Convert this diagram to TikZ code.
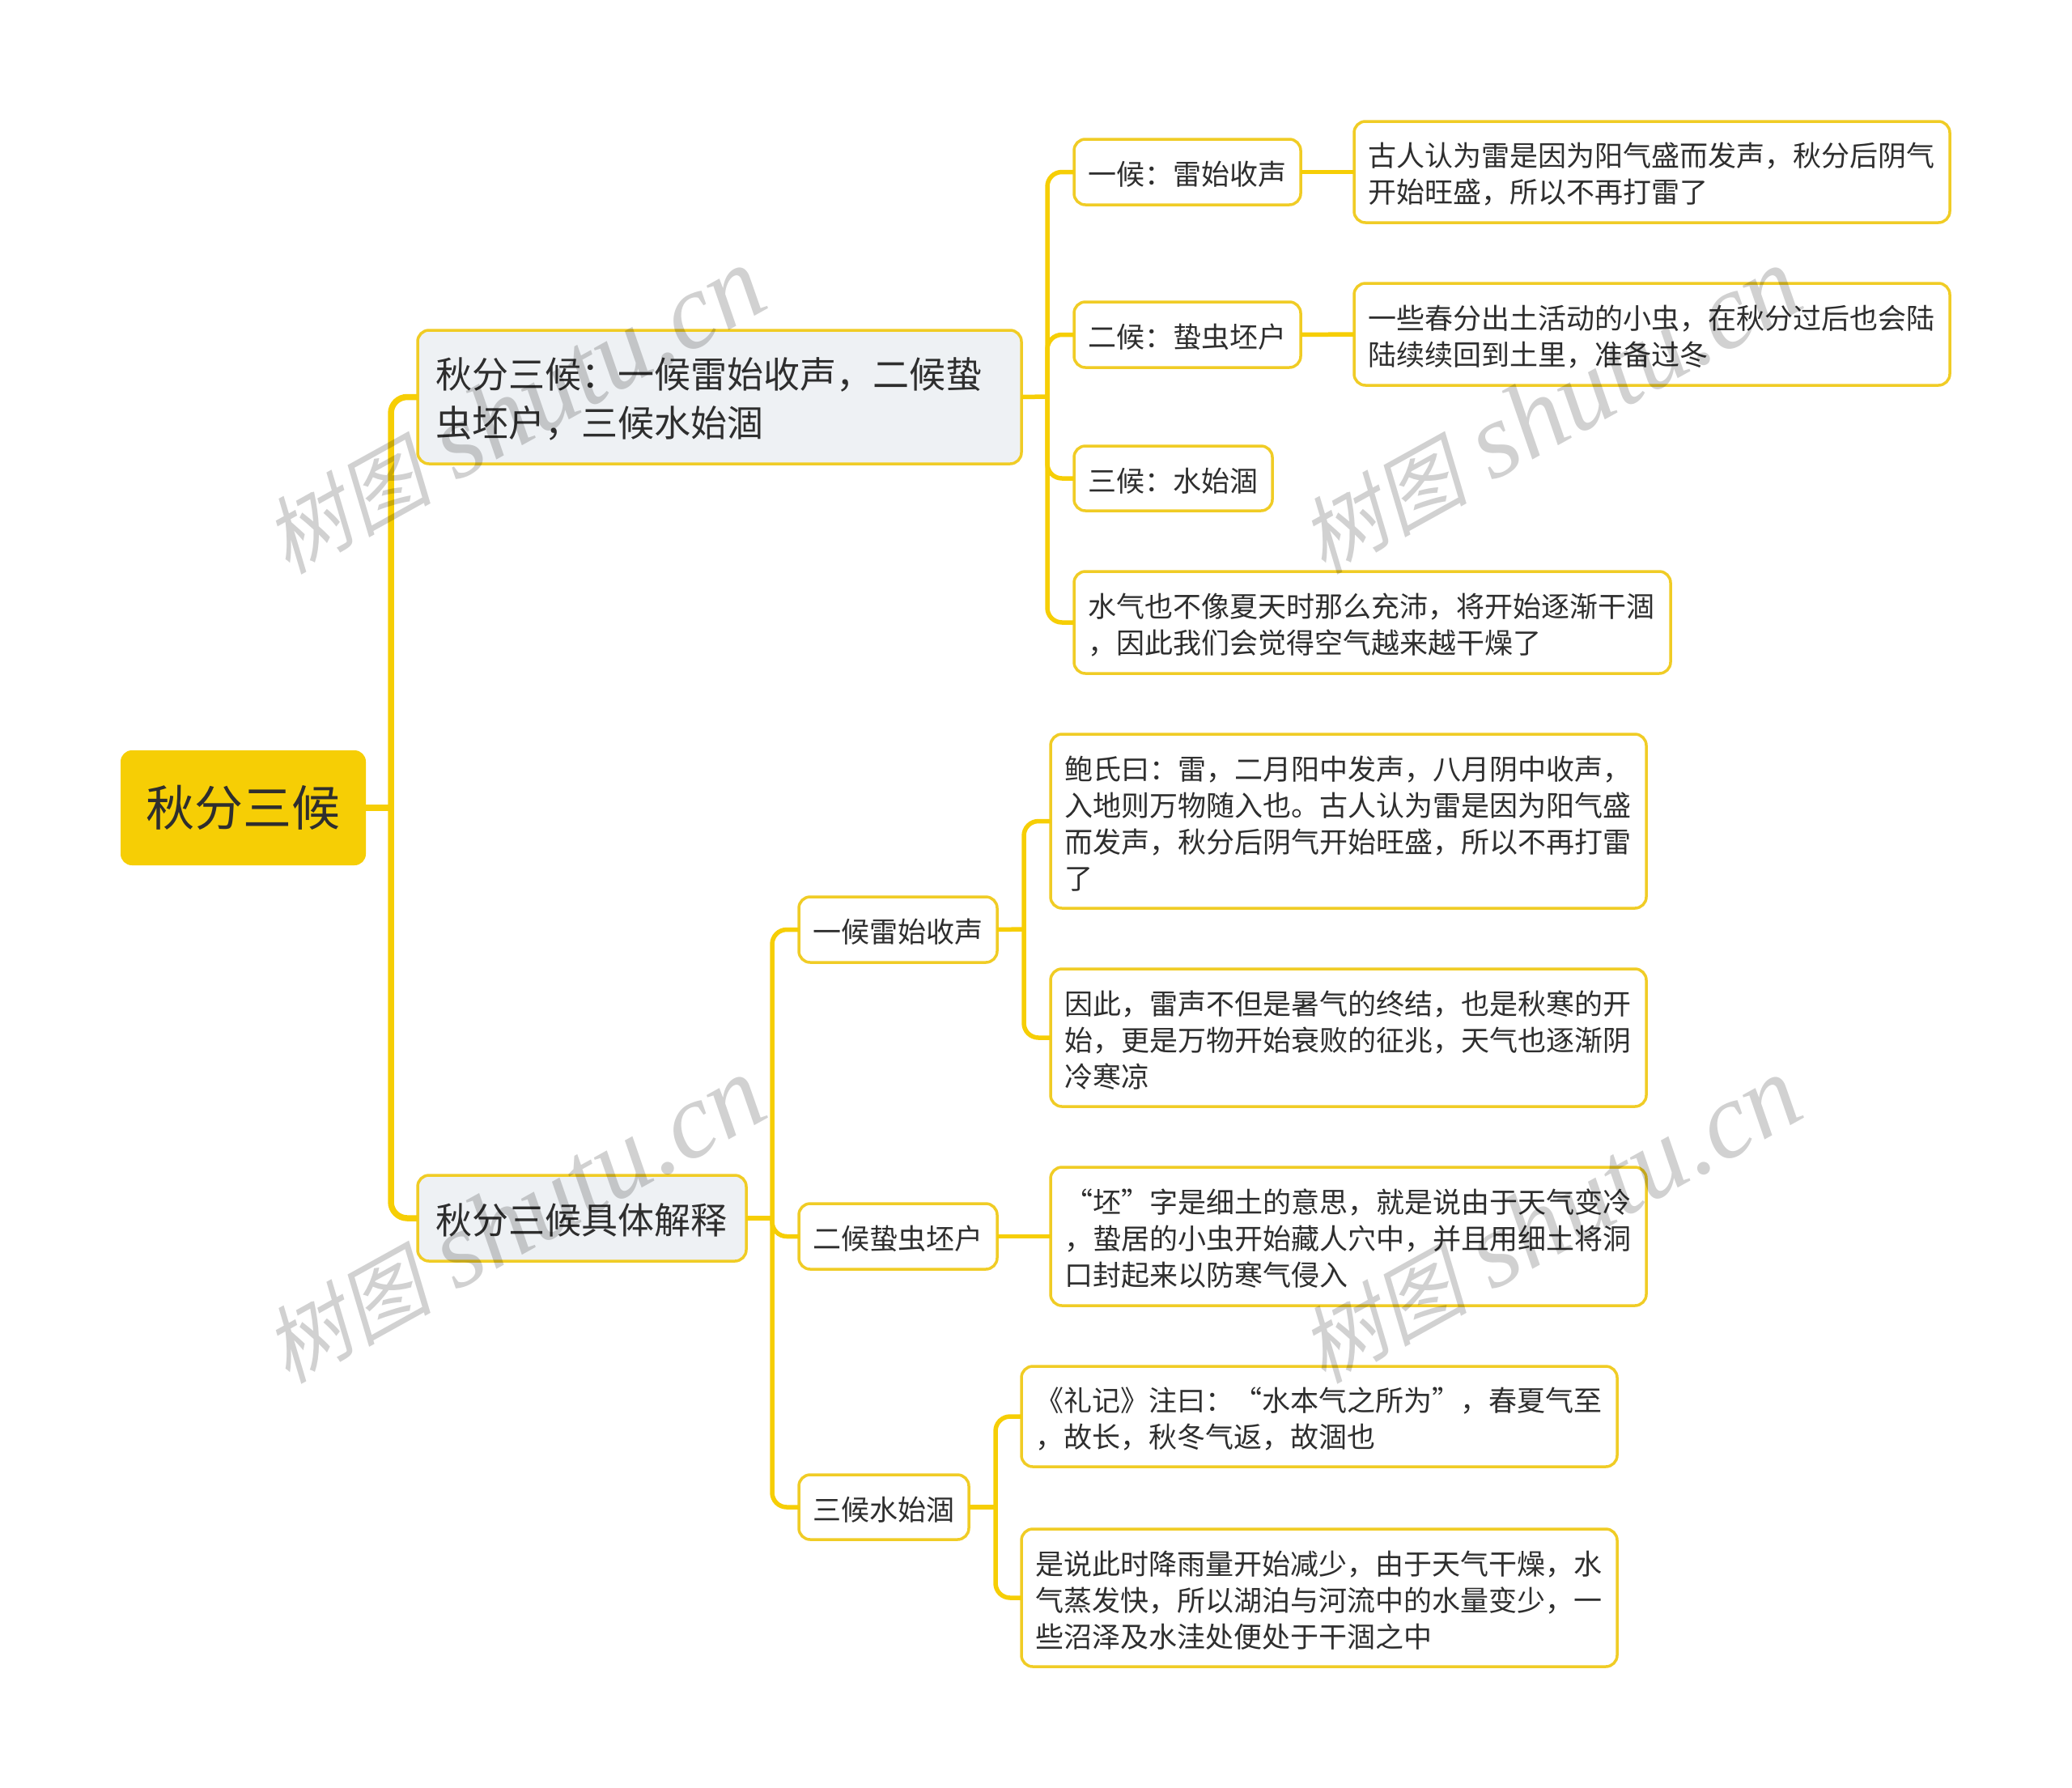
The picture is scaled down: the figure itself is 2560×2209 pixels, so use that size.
\documentclass[tikz,border=0pt]{standalone}
\usepackage{fontspec}
\setmainfont{Noto Sans CJK SC}
\newfontfamily\wmcjk[FakeSlant=0.22]{Noto Sans CJK SC}
\newfontfamily\wmlat[ItalicFont={Liberation Serif Italic}]{Liberation Serif}
\definecolor{ybright}{HTML}{F6CE05}
\definecolor{yborder}{HTML}{F0CC25}
\definecolor{lightfill}{HTML}{EEF1F4}
\definecolor{inkc}{HTML}{2E2E2E}
\newcommand{\wmtext}{{\fontsize{104}{120}\selectfont\wmcjk 树图}\hspace{30pt}{\fontsize{133}{140}\selectfont\wmlat\itshape shutu.cn}}
\tikzset{
  basebox/.style={rectangle,rounded corners=14pt,outer sep=0pt,inner ysep=0pt,inner xsep=0pt,align=left,text=inkc},
  rootbox/.style={basebox,fill=ybright,align=center,font=\fontsize{60}{66}\selectfont},
  majorbox/.style={basebox,draw=yborder,line width=3.5pt,fill=lightfill,font=\fontsize{45}{60}\selectfont,execute at begin node={\rule{0pt}{0.95em}}},
  leafbox/.style={basebox,draw=yborder,line width=3.5pt,fill=white,font=\fontsize{35}{45}\selectfont,execute at begin node={\rule{0pt}{1.0em}}},
  linkA/.style={draw=ybright,line width=7.5pt,rounded corners=20pt},
  linkB/.style={draw=ybright,line width=5.5pt,rounded corners=18pt},
  wmark/.style={rotate=29,text=black,opacity=0.18,text opacity=0.18,inner sep=0pt}
}
% name, x1, y1, x2, y2, style, inset, text
\newcommand{\placebox}[8]{%
  \pgfmathsetmacro\bxcx{(#2+#4)/2}%
  \pgfmathsetmacro\bxcy{(#3+#5)/2}%
  \pgfmathsetmacro\bxw{#4-#2}%
  \pgfmathsetmacro\bxh{#5-#3}%
  \pgfmathsetmacro\bxt{#4-#2-2*#7}%
  \node[#6,minimum width=\bxw pt,minimum height=\bxh pt,text width=\bxt pt] (#1) at (\bxcx,\bxcy) {#8};%
}
\begin{document}
\begin{tikzpicture}[x=1pt,y=-1pt]
\useasboundingbox (0,0) rectangle (2560,2209);
\fill[white] (0,0) rectangle (2560,2209);
% nodes
\placebox{root}{149}{927}{452}{1069}{rootbox}{0}{秋分三候}
\placebox{aone}{516}{408}{1262}{573}{majorbox}{22}{秋分三候：一候雷始收声，二候蛰\\虫坯户，三候水始涸}
\placebox{atwo}{516}{1452}{922}{1558}{majorbox}{22}{秋分三候具体解释}
\placebox{bone}{1327}{172}{1607}{253}{leafbox}{17}{一候：雷始收声}
\placebox{btwo}{1327}{373}{1607}{454}{leafbox}{17}{二候：蛰虫坯户}
\placebox{bthree}{1327}{551}{1572}{631}{leafbox}{17}{三候：水始涸}
\placebox{bfour}{1327}{706}{2064}{832}{leafbox}{17}{水气也不像夏天时那么充沛，将开始逐渐干涸\\，因此我们会觉得空气越来越干燥了}
\placebox{cone}{1673}{150}{2409}{275}{leafbox}{17}{古人认为雷是因为阳气盛而发声，秋分后阴气\\开始旺盛，所以不再打雷了}
\placebox{ctwo}{1673}{350}{2409}{476}{leafbox}{17}{一些春分出土活动的小虫，在秋分过后也会陆\\陆续续回到土里，准备过冬}
\placebox{done}{987}{1108}{1232}{1189}{leafbox}{17}{一候雷始收声}
\placebox{dtwo}{987}{1487}{1232}{1568}{leafbox}{17}{二候蛰虫坯户}
\placebox{dthree}{987}{1822}{1197}{1902}{leafbox}{17}{三候水始涸}
\placebox{eone}{1298}{907}{2034}{1122}{leafbox}{17}{鲍氏曰：雷，二月阳中发声，八月阴中收声，\\入地则万物随入也。古人认为雷是因为阳气盛\\而发声，秋分后阴气开始旺盛，所以不再打雷\\了}
\placebox{etwo}{1298}{1197}{2034}{1367}{leafbox}{17}{因此，雷声不但是暑气的终结，也是秋寒的开\\始，更是万物开始衰败的征兆，天气也逐渐阴\\冷寒凉}
\placebox{ethree}{1298}{1442}{2034}{1613}{leafbox}{17}{“坯”字是细土的意思，就是说由于天气变冷\\，蛰居的小虫开始藏人穴中，并且用细土将洞\\口封起来以防寒气侵入}
\placebox{fone}{1262}{1688}{1998}{1812}{leafbox}{17}{《礼记》注曰：“水本气之所为”，春夏气至\\，故长，秋冬气返，故涸也}
\placebox{ftwo}{1262}{1889}{1998}{2059}{leafbox}{17}{是说此时降雨量开始减少，由于天气干燥，水\\气蒸发快，所以湖泊与河流中的水量变少，一\\些沼泽及水洼处便处于干涸之中}
% trunk coordinates
\coordinate (troot) at (483,998);
\coordinate (taone) at (1294,490);
\coordinate (tatwo) at (954,1505);
\coordinate (tdone) at (1265,1148);
\coordinate (tdthree) at (1230,1862);
% connectors
\draw[linkA] (root.east) -- (troot);
\draw[linkA] (troot) |- (aone.west);
\draw[linkA] (troot) |- (atwo.west);
\draw[linkB] (aone.east) -- (taone);
\draw[linkB] (taone) |- (bone.west);
\draw[linkB] (taone) |- (btwo.west);
\draw[linkB] (taone) |- (bthree.west);
\draw[linkB] (taone) |- (bfour.west);
\draw[linkB] (bone.east) -- (cone.west);
\draw[linkB] (btwo.east) -- (ctwo.west);
\draw[linkB] (atwo.east) -- (tatwo);
\draw[linkB] (tatwo) |- (done.west);
\draw[linkB] (tatwo) |- (dtwo.west);
\draw[linkB] (tatwo) |- (dthree.west);
\draw[linkB] (done.east) -- (tdone);
\draw[linkB] (tdone) |- (eone.west);
\draw[linkB] (tdone) |- (etwo.west);
\draw[linkB] (dtwo.east) -- (ethree.west);
\draw[linkB] (dthree.east) -- (tdthree);
\draw[linkB] (tdthree) |- (fone.west);
\draw[linkB] (tdthree) |- (ftwo.west);
% watermarks
\node[wmark] (wma) at (635,508) {\wmtext};
\node[wmark] (wmb) at (1915,508) {\wmtext};
\node[wmark] (wmc) at (635,1508) {\wmtext};
\node[wmark] (wmd) at (1915,1508) {\wmtext};
\end{tikzpicture}
\end{document}
